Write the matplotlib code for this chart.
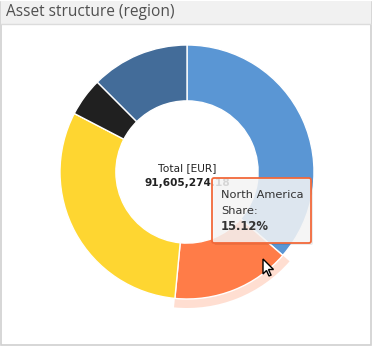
import matplotlib
matplotlib.use("Agg")
import matplotlib.pyplot as plt
from matplotlib.patches import Wedge, FancyBboxPatch, Rectangle, Polygon
import numpy as np

# ---- data ----
regions = ["Europe", "North America", "Asia", "Africa", "Other"]
shares = [36.4, 15.12, 31.1, 4.9, 12.48]
colors = ["#5a96d4", "#ff7c48", "#fed631", "#202020", "#436c99"]
title = "Asset structure (region)"
total_label = "Total [EUR]"
total_value = "91,605,274.18"
hover_index = 1

W, H = 372, 346
fig = plt.figure(figsize=(W / 100, H / 100), dpi=100)
ax = fig.add_axes([0, 0, 1, 1])

# panel + header
ax.add_patch(Rectangle((1, 1), W - 2.5, H - 2.5, facecolor="white", edgecolor="#d0d0d0", lw=1.2, zorder=0))
ax.add_patch(Rectangle((1, H - 24), W - 2.5, 23, facecolor="#f1f1f1", edgecolor="none", zorder=1))
ax.plot([1, W - 1.5], [H - 24, H - 24], color="#dcdcdc", lw=1, zorder=2)
ax.text(6, H - 12.5, title, fontsize=11.2, family="Open Sans", color="#505050", va="center", ha="left", zorder=3)

cx, cy = 187, H - 172
R = 127
width = 0.44

wedges, _ = ax.pie(shares, colors=colors, startangle=90, counterclock=False,
                   radius=R, center=(cx, cy), wedgeprops=dict(width=R * width, edgecolor="white", linewidth=1),
                   frame=False)
for w in wedges:
    w.set_zorder(3)

# hover halo around hovered slice
hw = wedges[hover_index]
ax.add_patch(Wedge((cx, cy), R + 9, hw.theta1, hw.theta2, width=9,
                   facecolor=colors[hover_index], alpha=0.25, edgecolor="none", zorder=2))

# center labels
ax.text(cx, H - 168, total_label, fontsize=7.7, family="DejaVu Sans", color="#222222", ha="center", va="center", zorder=4)
ax.text(cx, H - 183, total_value, fontsize=7.6, family="DejaVu Sans", weight="bold", color="#222222",
        ha="center", va="center", zorder=4)

# tooltip
tx0, ty0, tw, th = 212, H - 243, 99, 65
ax.add_patch(FancyBboxPatch((tx0 + 2, ty0 - 2), tw, th, boxstyle="round,pad=0,rounding_size=2",
                            facecolor="#000000", alpha=0.08, edgecolor="none", zorder=5))
ax.add_patch(FancyBboxPatch((tx0, ty0), tw, th, boxstyle="round,pad=0,rounding_size=2",
                            facecolor=(0.97, 0.97, 0.97, 0.85), edgecolor="#f2693a", lw=1.3, zorder=6))
ax.text(221, H - 195, regions[hover_index], fontsize=8.2, family="DejaVu Sans", color="#333333",
        ha="left", va="center", zorder=7)
ax.text(221, H - 211, "Share:", fontsize=8.2, family="DejaVu Sans", color="#333333",
        ha="left", va="center", zorder=7)
ax.text(221, H - 227, f"{shares[hover_index]:.2f}%", fontsize=8.4, family="DejaVu Sans", weight="bold",
        color="#333333", ha="left", va="center", zorder=7)

# mouse cursor
px, py = 263, H - 259
cur = np.array([[0, 0], [0, -15], [3.5, -11.5], [6, -17], [8, -16], [5.5, -10.5], [10.5, -10.5]])
ax.add_patch(Polygon(cur + [px, py], closed=True, facecolor="white", edgecolor="black", lw=1, zorder=8))

ax.set_xlim(0, W)
ax.set_ylim(0, H)
ax.set_aspect("auto")
ax.axis("off")
fig.savefig("out.png", dpi=100)
